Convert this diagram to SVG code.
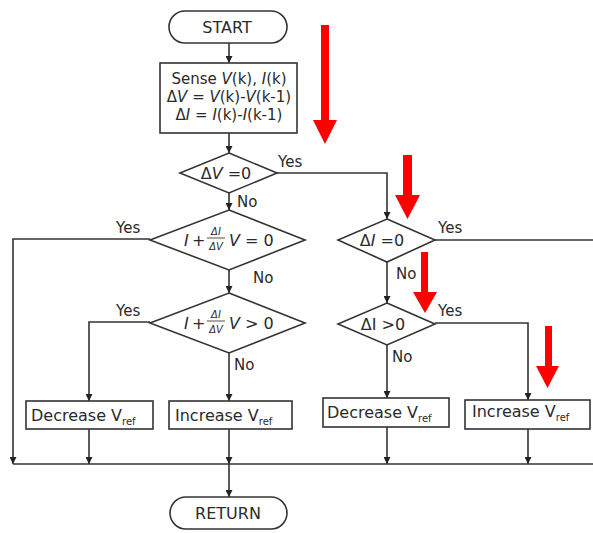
<svg xmlns="http://www.w3.org/2000/svg" width="593" height="533" viewBox="0 0 593 533">
<defs>
<marker id="ah" markerWidth="7" markerHeight="7" refX="7" refY="3.5" orient="auto" markerUnits="userSpaceOnUse" viewBox="0 0 7 7">
<path d="M0,0 L7,3.5 L0,7 Z" fill="#222"/>
</marker>
<style>
.s{fill:#fff;stroke:#333;stroke-width:1.6}
.c{fill:none;stroke:#333;stroke-width:1.6}
.a{fill:none;stroke:#333;stroke-width:1.6;marker-end:url(#ah)}
text{font-family:"DejaVu Sans","Liberation Sans",Arial,sans-serif;font-size:16px;fill:#2a2a2a}
.m{text-anchor:middle}
.i{font-style:italic}
.l{font-size:15px}
.f{font-size:10px;font-style:italic}
.sub{font-size:10px}
.red{fill:#ff0000}
</style>
</defs>
<rect width="593" height="533" fill="#fff"/>

<g id="connectors">
<line class="a" x1="229" y1="43" x2="229" y2="63"/>
<line class="a" x1="229" y1="133" x2="229" y2="153"/>
<line class="a" x1="229" y1="193" x2="229" y2="210"/>
<line class="a" x1="229" y1="270" x2="229" y2="293"/>
<line class="a" x1="229" y1="353" x2="229" y2="401"/>
<polyline class="a" points="150,322 89,322 89,401"/>
<polyline class="a" points="150,239 13,239 13,464"/>
<polyline class="a" points="277,173 387,173 387,219"/>
<line class="a" x1="387" y1="262" x2="387" y2="303"/>
<line class="a" x1="387" y1="345" x2="387" y2="398"/>
<polyline class="a" points="435,323 528,323 528,400"/>
<line class="c" x1="435" y1="240" x2="593" y2="240"/>
<line class="c" x1="13" y1="464" x2="593" y2="464"/>
<line class="a" x1="89" y1="429" x2="89" y2="464"/>
<line class="a" x1="229" y1="429" x2="229" y2="464"/>
<line class="a" x1="387" y1="427" x2="387" y2="464"/>
<line class="a" x1="528" y1="429" x2="528" y2="464"/>
<line class="a" x1="229" y1="464" x2="229" y2="497"/>
<text class="l" x="278" y="167">Yes</text>
<text class="l" x="237" y="207">No</text>
<text class="l" x="116" y="233">Yes</text>
<text class="l" x="253" y="283">No</text>
<text class="l" x="116" y="316">Yes</text>
<text class="l" x="234" y="370">No</text>
<text class="l" x="438" y="233">Yes</text>
<text class="l" x="396" y="279">No</text>
<text class="l" x="438" y="316">Yes</text>
<text class="l" x="392" y="362">No</text>
</g>

<g id="start">
<rect class="s" x="169" y="11" width="118" height="32" rx="16"/>
<text class="m" x="227" y="33">START</text>
</g>

<g id="sense">
<rect class="s" x="160" y="63" width="137" height="70"/>
<text class="m l" x="229" y="84">Sense <tspan class="i">V</tspan>(k), <tspan class="i">I</tspan>(k)</text>
<text class="m l" x="229" y="102">Δ<tspan class="i">V</tspan> = <tspan class="i">V</tspan>(k)-<tspan class="i">V</tspan>(k-1)</text>
<text class="m l" x="229" y="120">Δ<tspan class="i">I</tspan> = <tspan class="i">I</tspan>(k)-<tspan class="i">I</tspan>(k-1)</text>
</g>

<g id="dv0">
<polygon class="s" points="229,153 277,173 229,193 180,173"/>
<text class="m" x="226" y="179">Δ<tspan class="i">V</tspan> =0</text>
</g>

<g id="cond1">
<polygon class="s" points="229,210 305,240 229,270 150,240"/>
<text class="i" x="184" y="246" font-family="Liberation Serif">I</text>
<text x="192" y="246">+</text>
<text class="f" x="216" y="235" text-anchor="middle">ΔI</text>
<line x1="207" y1="238" x2="225" y2="238" stroke="#222" stroke-width="0.8"/>
<text class="f" x="216" y="250" text-anchor="middle">ΔV</text>
<text x="229" y="246"><tspan class="i">V</tspan> = 0</text>
</g>

<g id="cond2">
<polygon class="s" points="229,293 305,323 229,353 150,323"/>
<text class="i" x="184" y="329" font-family="Liberation Serif">I</text>
<text x="192" y="329">+</text>
<text class="f" x="216" y="318" text-anchor="middle">ΔI</text>
<line x1="207" y1="321" x2="225" y2="321" stroke="#222" stroke-width="0.8"/>
<text class="f" x="216" y="333" text-anchor="middle">ΔV</text>
<text x="229" y="329"><tspan class="i">V</tspan> &gt; 0</text>
</g>

<g id="di0">
<polygon class="s" points="387,219 435,240 387,262 338,240"/>
<text class="m" x="382" y="246">Δ<tspan class="i">I</tspan> =0</text>
</g>

<g id="dipos">
<polygon class="s" points="387,303 435,324 387,345 338,324"/>
<text class="m" x="383" y="330">ΔI &gt;0</text>
</g>

<g id="dec1">
<rect class="s" x="26" y="401" width="127" height="28"/>
<text x="31" y="421">Decrease V<tspan class="sub" dy="4">ref</tspan></text>
</g>

<g id="inc1">
<rect class="s" x="169" y="401" width="123" height="28"/>
<text x="175" y="421">Increase V<tspan class="sub" dy="4">ref</tspan></text>
</g>

<g id="dec2">
<rect class="s" x="323" y="398" width="126" height="29"/>
<text x="327" y="418">Decrease V<tspan class="sub" dy="4">ref</tspan></text>
</g>

<g id="inc2">
<rect class="s" x="465" y="400" width="125" height="29"/>
<text x="472" y="417">Increase V<tspan class="sub" dy="4">ref</tspan></text>
</g>

<g id="return">
<rect class="s" x="170" y="497" width="117" height="32" rx="16"/>
<text class="m" x="228" y="519">RETURN</text>
</g>

<g id="red-arrows">
<polygon class="red" points="321,25 329,25 329,120 337,120 325,144 313,120 321,120"/>
<polygon class="red" points="403,155 412,155 412,195 420,195 407.5,219 395,195 403,195"/>
<polygon class="red" points="421,252 428,252 428,292 437,292 425,313 413,292 421,292"/>
<polygon class="red" points="545,326 552,326 552,366 559,366 547.5,388 536,366 545,366"/>
</g>
</svg>
